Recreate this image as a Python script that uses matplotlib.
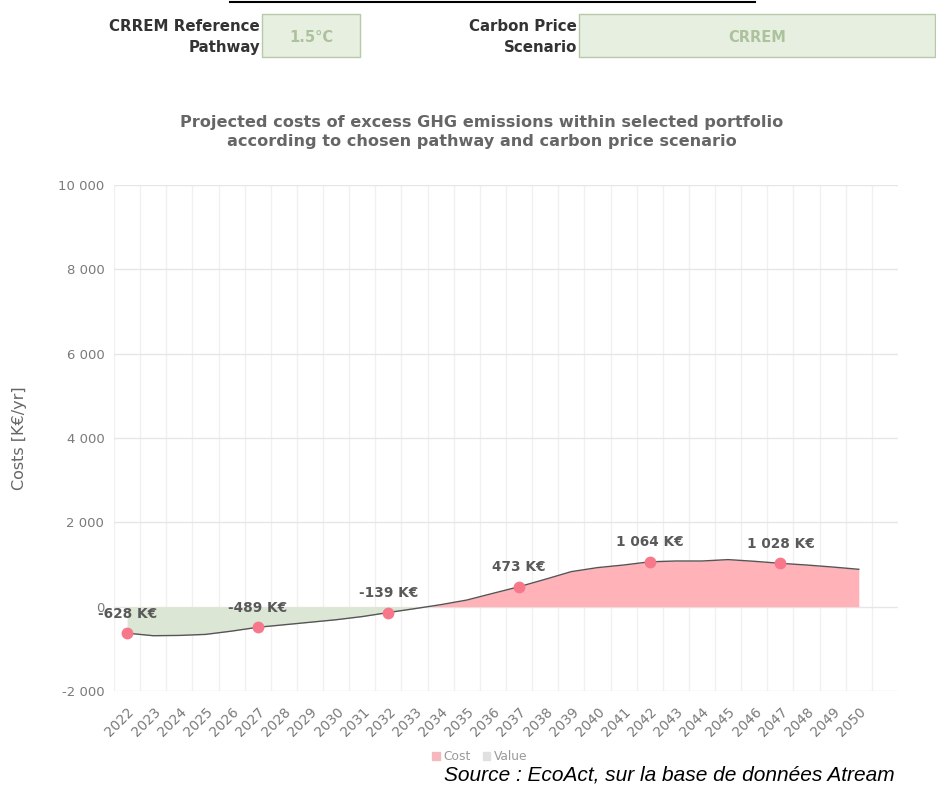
# Projected costs of excess GHG emissions - CRREM 1.5°C pathway
import matplotlib.pyplot as plt
from matplotlib.patches import Rectangle, Patch
from matplotlib.lines import Line2D

years = list(range(2022, 2051))
costs = [-628, -689, -682, -658, -580, -489, -430, -370, -310, -235, -139, -48,
         47, 157, 316, 473, 649, 831, 926, 988, 1064, 1083, 1083, 1116, 1076,
         1028, 988, 940, 886]
label_years = [2022, 2027, 2032, 2037, 2042, 2047]
yticks = [-2000, 0, 2000, 4000, 6000, 8000, 10000]

W, H = 936, 785
fig = plt.figure(figsize=(W / 100, H / 100), dpi=100)


def fx(px):
    return px / W


def fy(py):
    return 1 - py / H


# header with the selected options
fig.add_artist(Line2D([fx(230), fx(755)], [fy(2), fy(2)], color='black', lw=1.5))
fig.text(fx(260), fy(37), 'CRREM Reference\nPathway', ha='right', va='center',
         fontsize=10.8, fontweight='bold', color='#333333', linespacing=1.5)
fig.text(fx(577), fy(37), 'Carbon Price\nScenario', ha='right', va='center',
         fontsize=10.8, fontweight='bold', color='#333333', linespacing=1.5)
for x0, x1, txt in [(262, 360, '1.5°C'), (579, 935, 'CRREM')]:
    fig.add_artist(Rectangle((fx(x0), fy(57)), fx(x1 - x0), (57 - 14) / H,
                             facecolor='#e7efe0', edgecolor='#b8c9a8', lw=1))
    fig.text(fx((x0 + x1) / 2), fy(38), txt, ha='center', va='center',
             fontsize=10.5, fontweight='bold', color='#adc29c')

fig.text(fx(482), fy(132),
         'Projected costs of excess GHG emissions within selected portfolio\n'
         'according to chosen pathway and carbon price scenario',
         ha='center', va='center', fontsize=11.6, fontweight='bold',
         color='#666666', linespacing=1.3)

ax = fig.add_axes([fx(114), fy(691), fx(898 - 114), (691 - 185) / H])

ax.fill_between(years, costs, 0, where=[c <= 0 for c in costs], interpolate=True,
                color='#dce6d4', lw=0)
ax.fill_between(years, costs, 0, where=[c >= 0 for c in costs], interpolate=True,
                color='#ffb3b9', lw=0)
ax.plot(years, costs, color='#555555', lw=1)

for yr in label_years:
    v = costs[years.index(yr)]
    ax.plot(yr, v, 'o', color='#f7788a', ms=8.5, mec='none', zorder=5)
    ax.annotate(f"{v:,}".replace(",", " ") + " K€", (yr, v), xytext=(0, 9),
                textcoords='offset points', ha='center', va='bottom',
                fontsize=9.8, fontweight='bold', color='#595959', zorder=6)

ax.set_xlim(2021.5, 2051.5)
ax.set_ylim(-2000, 10000)
ax.set_yticks(yticks)
ax.set_yticklabels([f"{t:,}".replace(",", " ") for t in yticks])
ax.set_xticks(years)
ax.set_xticklabels([str(y) for y in years], rotation=45, ha='right',
                   rotation_mode='anchor')
ax.set_xticks([y + 0.5 for y in range(2021, 2051)], minor=True)
ax.tick_params(axis='both', which='both', length=0, labelcolor='#7a7a7a')
ax.tick_params(axis='y', pad=7, labelsize=9.5)
ax.tick_params(axis='x', pad=10, labelsize=9.8)
ax.grid(axis='y', color='#e6e6e6', lw=1)
ax.grid(axis='x', which='minor', color='#f0f0f0', lw=1)
ax.set_axisbelow(True)
for s in ax.spines.values():
    s.set_visible(False)
ax.set_ylabel('Costs [K€/yr]', fontsize=11.5, color='#666666', labelpad=22)

handles = [Patch(color='#f5b8bd', label='Cost'), Patch(color='#e0e0e0', label='Value')]
fig.legend(handles=handles, loc='center', bbox_to_anchor=(fx(480), fy(757)), ncol=2,
           frameon=False, fontsize=8.8, labelcolor='#999999', handlelength=0.6,
           handleheight=0.6, handletextpad=0.3, columnspacing=1.0)

fig.text(fx(895), fy(775), 'Source : EcoAct, sur la base de données Atream',
         ha='right', va='center', fontsize=15, style='italic', color='black',
         family='Liberation Sans')

fig.savefig('out.png', dpi=100)
